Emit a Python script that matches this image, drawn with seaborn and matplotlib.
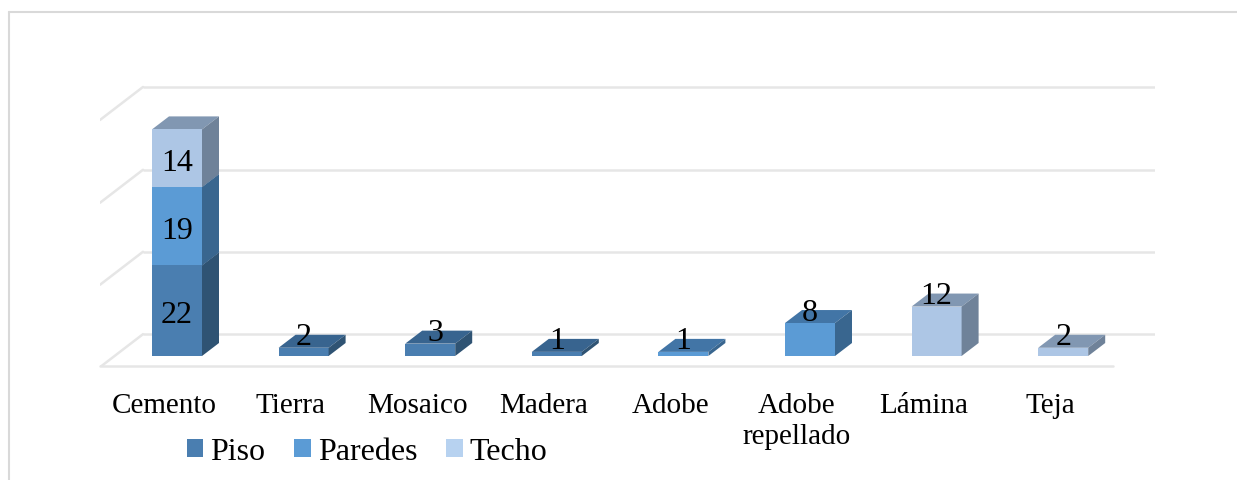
import matplotlib
matplotlib.use("Agg")
import matplotlib.pyplot as plt
import pandas as pd
import seaborn as sns
from matplotlib.lines import Line2D
from matplotlib.patches import Patch, Polygon
from matplotlib.transforms import ScaledTranslation

categorias = ["Cemento", "Tierra", "Mosaico", "Madera", "Adobe", "Adobe\nrepellado", "Lámina", "Teja"]
piso = [22, 2, 3, 1, 0, 0, 0, 0]
paredes = [19, 0, 0, 0, 1, 8, 0, 0]
techo = [14, 0, 0, 0, 0, 0, 12, 2]
grid_vals = [5.3, 25.3, 45.2, 65.3]

colores = {
    "Piso": ("#4A7EB0", "#2F5373", "#38648F"),
    "Paredes": ("#5B9BD5", "#39668F", "#4275A6"),
    "Techo": ("#ADC6E5", "#6F8299", "#8197B2"),
}
color_leyenda = {"Piso": "#4A7EB0", "Paredes": "#5B9BD5", "Techo": "#B7D2F0"}

W, H = 1237, 481
GRIS = "#E6E6E6"
BORDE = "#D9D9D9"
sns.set_theme(style="white")
plt.rcParams["font.family"] = ["Liberation Serif", "DejaVu Serif"]

df = pd.DataFrame({"Material": categorias, "Piso": piso, "Paredes": paredes, "Techo": techo})

fig = plt.figure(figsize=(W / 100, H / 100), dpi=100)
# ejes colocados en pixeles: de x=100 a 1155, de y=80 a 367
ax = fig.add_axes([100 / W, 1 - 367 / H, 1055 / W, 287 / H])

px_x = 126.6   # pixeles por categoria
px_y = 4.12    # pixeles por unidad
dx = 17 / px_x
dy = 13 / px_y

# --- borde del recuadro: solo arriba y a la izquierda ---
for xs, ys in [((8.5, 8.5), (13, 481)), ((8.5, 1237), (13, 13))]:
    fig.add_artist(Line2D([x / W for x in xs], [1 - y / H for y in ys], color=BORDE, lw=1.5))

base = [0] * len(categorias)
for serie in ["Piso", "Paredes", "Techo"]:
    sns.barplot(data=df, x="Material", y=serie, order=categorias, color=colores[serie][0],
                saturation=1, width=50 / px_x, bottom=base, ax=ax, zorder=2, linewidth=0)
    base = [b + v for b, v in zip(base, df[serie])]

ax.set_xlim(-77 / px_x, 978 / px_x)
ax.set_ylim(-10 / px_y, 277 / px_y)

# --- caras laterales y superiores ---
n = len(categorias)
for k, serie in enumerate(["Piso", "Paredes", "Techo"]):
    barras = ax.patches[k * n:(k + 1) * n]
    for b in barras:
        if b.get_height() == 0:
            continue
        x1 = b.get_x() + b.get_width()
        x0 = b.get_x()
        y0 = b.get_y()
        y1 = y0 + b.get_height()
        ax.add_patch(Polygon([(x1, y0), (x1 + dx, y0 + dy), (x1 + dx, y1 + dy), (x1, y1)],
                             fc=colores[serie][1], ec="none", zorder=2))
        ax.add_patch(Polygon([(x0, y1), (x0 + dx, y1 + dy), (x1 + dx, y1 + dy), (x1, y1)],
                             fc=colores[serie][2], ec="none", zorder=1.9 + k * 0.01))

# --- rejilla "3D" ---
x_izq = -77 / px_x
x_fondo = x_izq + 43 / px_x
x_fin = 978 / px_x
x_frente = (1113 - 177) / px_x
y_frente = -10 / px_y
for g in grid_vals:
    ax.plot([x_fondo, x_fin], [g, g], color=GRIS, lw=1.8, zorder=0.5, solid_capstyle="butt")
    ax.plot([x_izq, x_fondo], [g - 33 / px_y, g], color=GRIS, lw=1.8, zorder=0.5)
ax.plot([x_izq, x_frente], [y_frente, y_frente], color=GRIS, lw=1.8, zorder=0.5, clip_on=False)

# --- etiquetas de datos ---
acum = 0
for serie, v in zip(["Piso", "Paredes", "Techo"], [22, 19, 14]):
    ax.text(0, acum + v / 2 - 4 / px_y, str(v), ha="center", va="center", fontsize=23, color="black", zorder=5)
    acum += v
for i in range(1, n):
    total = piso[i] + paredes[i] + techo[i]
    desp = 5 / px_x if i == 2 else 0
    ax.text(i + desp, total + 11 / px_y, str(total), ha="center", va="center", fontsize=23,
            color="black", zorder=5)

# --- ejes ---
sns.despine(ax=ax, left=True, bottom=True, top=True, right=True)
ax.set_xlabel("")
ax.set_ylabel("")
ax.set_yticks([])
ax.tick_params(axis="x", length=0, pad=19, labelsize=21, labelcolor="black")
corrimiento = ScaledTranslation(-13 / 100, 0, fig.dpi_scale_trans)
for t in ax.get_xticklabels():
    t.set_linespacing(1.25)
    t.set_transform(t.get_transform() + corrimiento)

# --- leyenda ---
handles = [Patch(fc=color_leyenda[s], ec="none", label=s) for s in ["Piso", "Paredes", "Techo"]]
fig.legend(handles=handles, loc="center left", bbox_to_anchor=(158 / W, 1 - 453 / H), ncol=3, frameon=False,
           fontsize=23, labelcolor="black", handlelength=0.52, handleheight=0.52, handletextpad=0.22,
           columnspacing=0.9)

fig.savefig("out.png", dpi=100)
